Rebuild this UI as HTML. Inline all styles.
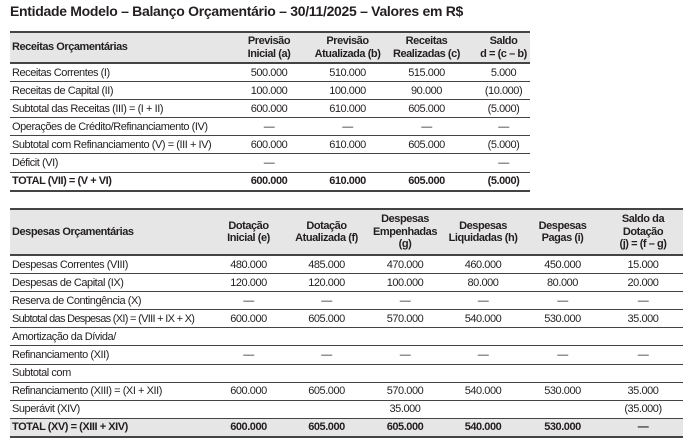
<!DOCTYPE html>
<html><head><meta charset="utf-8"><style>
body{margin:0;width:700px;height:444px;background:#fff;overflow:hidden;font-family:"Liberation Sans Narrow","Liberation Sans",sans-serif;color:#231f20;}
.t{position:absolute;left:10px;top:3px;font-size:14px;font-weight:bold;letter-spacing:-0.3px}
table{position:absolute;border-collapse:collapse;table-layout:fixed;font-size:11px;letter-spacing:-0.45px}
td{padding:0 3px;white-space:nowrap;border-bottom:1.3px solid #444;height:17.1px;line-height:12px;text-align:center;overflow:visible}
td:first-child{text-align:left;padding-left:2px}
tr.h td{background:#e6e6e6;font-weight:bold;border-top:2px solid #444;border-bottom:2px solid #444;line-height:12.5px}
tr.b td{font-weight:bold;background:#fff}
#t2 tr.b td{background:#e6e6e6}
tr.last td{border-bottom:2px solid #444}
.s{padding-left:14px}
</style></head><body>
<div class="t">Entidade Modelo – Balanço Orçamentário – 30/11/2025 – Valores em R$</div>
<table id="t1" style="left:10px;top:31px;width:520px">
<colgroup><col style="width:220px"><col style="width:78px"><col style="width:79px"><col style="width:79px"><col style="width:64px"></colgroup>
<tr class="h"><td style="height:29px">Receitas Orçamentárias</td><td>Previsão<br>Inicial (a)</td><td>Previsão<br>Atualizada (b)</td><td>Receitas<br>Realizadas (c)</td><td class="s">Saldo<br>d = (c – b)</td></tr>
<tr><td>Receitas Correntes (I)</td><td>500.000</td><td>510.000</td><td>515.000</td><td class="s">5.000</td></tr>
<tr><td>Receitas de Capital (II)</td><td>100.000</td><td>100.000</td><td>90.000</td><td class="s">(10.000)</td></tr>
<tr><td>Subtotal das Receitas (III) = (I + II)</td><td>600.000</td><td>610.000</td><td>605.000</td><td class="s">(5.000)</td></tr>
<tr><td>Operações de Crédito/Refinanciamento (IV)</td><td>—</td><td>—</td><td>—</td><td class="s">—</td></tr>
<tr><td>Subtotal com Refinanciamento (V) = (III + IV)</td><td>600.000</td><td>610.000</td><td>605.000</td><td class="s">(5.000)</td></tr>
<tr><td>Déficit (VI)</td><td>—</td><td></td><td></td><td class="s">—</td></tr>
<tr class="b last"><td>TOTAL (VII) = (V + VI)</td><td>600.000</td><td>610.000</td><td>605.000</td><td class="s">(5.000)</td></tr>
</table>
<table id="t2" style="left:10px;top:208px;width:673px">
<colgroup><col style="width:200px"><col style="width:77px"><col style="width:79px"><col style="width:78px"><col style="width:78px"><col style="width:81px"><col style="width:80px"></colgroup>
<tr class="h"><td style="height:44px">Despesas Orçamentárias</td><td>Dotação<br>Inicial (e)</td><td>Dotação<br>Atualizada (f)</td><td>Despesas<br>Empenhadas<br>(g)</td><td>Despesas<br>Liquidadas (h)</td><td>Despesas<br>Pagas (i)</td><td>Saldo da<br>Dotação<br>(j) = (f – g)</td></tr>
<tr><td>Despesas Correntes (VIII)</td><td>480.000</td><td>485.000</td><td>470.000</td><td>460.000</td><td>450.000</td><td>15.000</td></tr>
<tr><td>Despesas de Capital (IX)</td><td>120.000</td><td>120.000</td><td>100.000</td><td>80.000</td><td>80.000</td><td>20.000</td></tr>
<tr><td>Reserva de Contingência (X)</td><td>—</td><td>—</td><td>—</td><td>—</td><td>—</td><td>—</td></tr>
<tr><td style="letter-spacing:-0.7px">Subtotal das Despesas (XI) = (VIII + IX + X)</td><td>600.000</td><td>605.000</td><td>570.000</td><td>540.000</td><td>530.000</td><td>35.000</td></tr>
<tr><td>Amortização da Dívida/</td><td></td><td></td><td></td><td></td><td></td><td></td></tr>
<tr><td>Refinanciamento (XII)</td><td>—</td><td>—</td><td>—</td><td>—</td><td>—</td><td>—</td></tr>
<tr><td>Subtotal com</td><td></td><td></td><td></td><td></td><td></td><td></td></tr>
<tr><td>Refinanciamento (XIII) = (XI + XII)</td><td>600.000</td><td>605.000</td><td>570.000</td><td>540.000</td><td>530.000</td><td>35.000</td></tr>
<tr><td>Superávit (XIV)</td><td></td><td></td><td>35.000</td><td></td><td></td><td>(35.000)</td></tr>
<tr class="b last"><td>TOTAL (XV) = (XIII + XIV)</td><td>600.000</td><td>605.000</td><td>605.000</td><td>540.000</td><td>530.000</td><td>—</td></tr>
</table>
</body></html>
